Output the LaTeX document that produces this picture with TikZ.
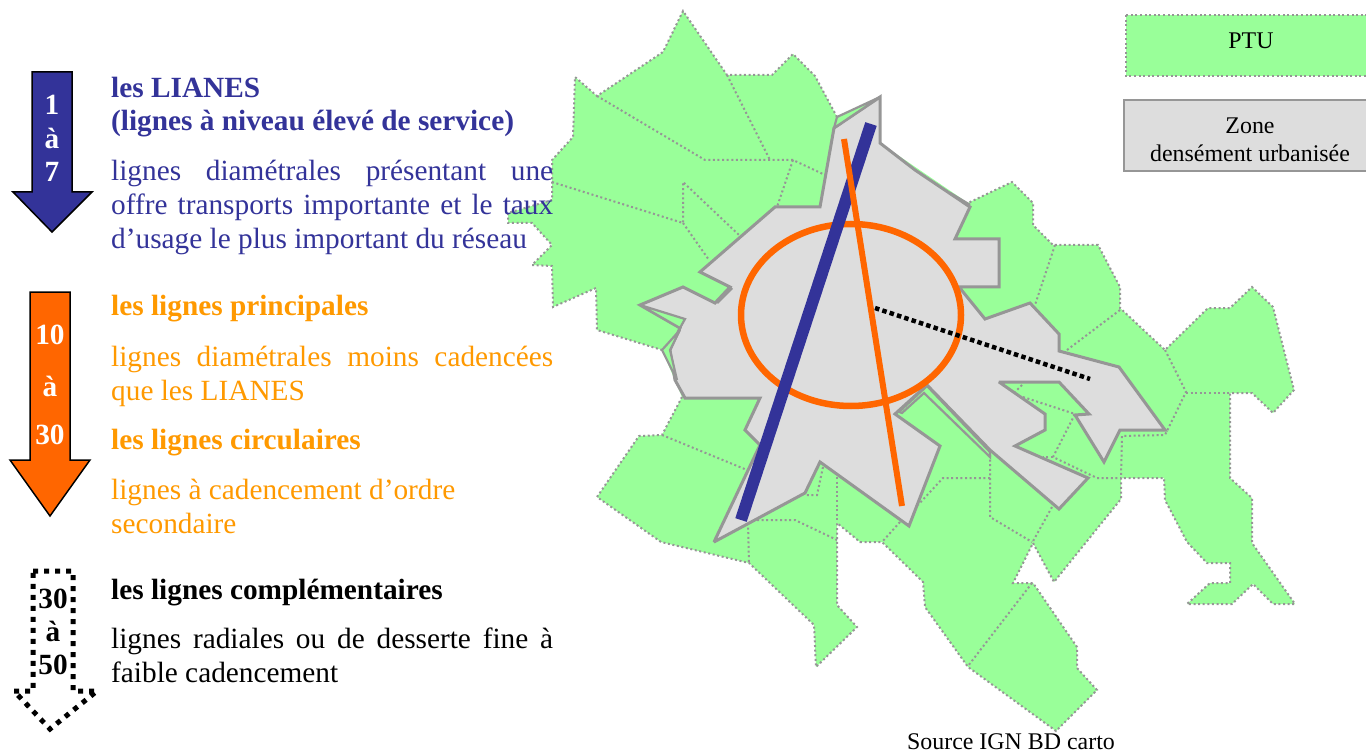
\documentclass[tikz,border=0pt]{standalone}
\usepackage{fontspec}
\setmainfont{Liberation Serif}
\usepackage{xcolor}
\definecolor{lianes}{HTML}{333399}
\definecolor{orangefonce}{HTML}{FF6600}
\definecolor{orangeclair}{HTML}{FF9900}
\definecolor{vertptu}{HTML}{99FF99}
\definecolor{griszone}{HTML}{DDDDDD}
\definecolor{gristrait}{HTML}{969696}
\tikzstyle{commune}=[draw=gristrait,line width=2pt,dash pattern=on 2pt off 2.6pt]
\tikzstyle{zone}=[draw=gristrait,line width=3pt,line join=miter,miter limit=3]
\tikzstyle{sliver}=[zone,fill=vertptu,line width=2.2pt]
\tikzstyle{titre}=[anchor=base west,inner sep=0pt,font=\fontsize{29.3}{33}\selectfont\bfseries,align=left]
\tikzstyle{corps}=[anchor=base west,inner sep=0pt,text width=442pt,align=justify,font=\fontsize{29.3}{34}\selectfont]
\tikzstyle{rang}=[inner sep=0pt,align=center,font=\fontsize{29.3}{31}\selectfont\bfseries]
\tikzstyle{legende}=[inner sep=0pt,align=center,font=\fontsize{23.9}{28}\selectfont]
\begin{document}
\begin{tikzpicture}[x=1pt,y=-1pt]
\useasboundingbox (0,0) rectangle (1366,754);
% PTU
\fill[vertptu] (683,11) -- (727,75) -- (772,75) -- (793,54) -- (815,76) -- (837,117) -- (880,97) -- (880,143)
  -- (968,203) -- (1012,182) -- (1033,203) -- (1033,225) -- (1053,245) -- (1098,245) -- (1120,287) -- (1120,308)
  -- (1165,350) -- (1208,308) -- (1230,308) -- (1252,287) -- (1273,307) -- (1294,390) -- (1273,413) -- (1252,393)
  -- (1230,393) -- (1230,478) -- (1252,498) -- (1252,543) -- (1295,604) -- (1273,604) -- (1253,584) -- (1232,604)
  -- (1187,604) -- (1210,583) -- (1230,583) -- (1230,563) -- (1207,563) -- (1187,542) -- (1165,500) -- (1164,478)
  -- (1121,478) -- (1121,499) -- (1054,582) -- (1033,543) -- (1013,583) -- (1033,583) -- (1077,647) -- (1077,668)
  -- (1097,690) -- (1056,731) -- (968,667) -- (925,607) -- (923,582) -- (882,542) -- (860,542) -- (837,523)
  -- (837,605) -- (857,627) -- (816,667) -- (814,625) -- (749,563) -- (661,542) -- (597,497) -- (639,436)
  -- (662,435) -- (682,397) -- (662,350) -- (597,330) -- (596,288) -- (553,307) -- (552,266) -- (532,265)
  -- (552,245) -- (532,223) -- (508,223) -- (508,213) -- (552,200) -- (552,160) -- (573,137) -- (575,77)
  -- (597,96) -- (663,52) -- cycle;
\path[commune] (837,117) -- (815,76) -- (793,54) -- (772,75) -- (727,75) -- (683,11) -- (663,52) -- (597,96)
  -- (575,77) -- (573,137) -- (552,160) -- (552,200) -- (508,213) -- (508,223) -- (532,223) -- (552,245)
  -- (532,265) -- (552,266) -- (553,307) -- (596,288) -- (597,330) -- (662,350);
\path[commune] (682,397) -- (662,435) -- (639,436) -- (597,497) -- (661,542) -- (749,563) -- (814,625) -- (816,667)
  -- (857,627) -- (837,605) -- (837,523) -- (860,542) -- (882,542) -- (923,582) -- (925,607) -- (968,667)
  -- (1056,731) -- (1097,690) -- (1077,668) -- (1077,647) -- (1033,583) -- (1013,583) -- (1033,543) -- (1054,582)
  -- (1121,499) -- (1121,478) -- (1164,478) -- (1165,500) -- (1187,542) -- (1207,563) -- (1230,563) -- (1230,583)
  -- (1210,583) -- (1187,604) -- (1232,604) -- (1253,584) -- (1273,604) -- (1295,604) -- (1252,543) -- (1252,498)
  -- (1230,478) -- (1230,393) -- (1252,393) -- (1273,413) -- (1294,390) -- (1273,307) -- (1252,287) -- (1230,308)
  -- (1208,308) -- (1165,350) -- (1120,308) -- (1120,287) -- (1098,245) -- (1053,245) -- (1033,225) -- (1033,203)
  -- (1012,182) -- (968,203);
% limites des communes
\path[commune] (597,96) -- (705,160) -- (793,160) -- (825,175);
\path[commune] (727,75) -- (770,160);
\path[commune] (793,160) -- (777,207);
\path[commune] (552,182) -- (683,223) -- (683,182) -- (739,235);
\path[commune] (683,223) -- (709,260);
\path[commune] (1055,245) -- (1035,305);
\path[commune] (1120,310) -- (1067,350);
\path[commune] (1165,350) -- (1186,392) -- (1165,435) -- (1122,436) -- (1121,478);
\path[commune] (1186,393) -- (1230,393);
\path[commune] (1022,385) -- (1015,392);
\path[commune] (1023,397) -- (1075,414) -- (1053,457) -- (1097,478) -- (1121,478);
\path[commune] (1053,457) -- (1043,457);
\path[commune] (990,455) -- (990,517) -- (1032,542);
\path[commune] (1052,507) -- (1032,543);
\path[commune] (990,478) -- (943,478) -- (918,505);
\path[commune] (900,522) -- (882,542);
\path[commune] (837,477) -- (837,523);
\path[commune] (823,467) -- (817,495) -- (805,495);
\path[commune] (748,523) -- (749,563);
\path[commune] (757,520) -- (795,520) -- (837,540);
\path[commune] (662,435) -- (747,470);
\path[commune] (1032,583) -- (968,666);
% zone densement urbanisee
\path[zone,fill=griszone] (880,97) -- (880,143) -- (915,170) -- (970,207) -- (955,239) -- (999,239) -- (999,287)
  -- (959,287) -- (985,319) -- (1030,303) -- (1059,334) -- (1059,351) -- (1119,367) -- (1165,430) -- (1120,430)
  -- (1104,462) -- (1075,415) -- (1089,414) -- (1059,382) -- (999,382) -- (1045,414) -- (1045,430) -- (1015,446)
  -- (1088,478) -- (1059,509) -- (990,450) -- (927,385) -- (895,414) -- (940,446) -- (909,526) -- (820,462)
  -- (805,493) -- (714,542) -- (760,445) -- (745,430) -- (760,398) -- (685,398) -- (675,380) -- (670,350)
  -- (680,328) -- (640,305) -- (683,287) -- (715,303) -- (730,287) -- (700,272) -- (775,207) -- (820,207)
  -- (834,128) -- cycle;
\path[sliver] (837,117) -- (880,97) -- (834,128) -- cycle;
\path[sliver] (640,305) -- (685,319) -- (680,328) -- cycle;
\path[sliver] (662,350) -- (680,330) -- (670,350) -- (677,380) -- cycle;
\path[sliver] (899,412) -- (927,386) -- (990,452) -- (990,457) -- (924,393) -- (902,413) -- cycle;
\draw[gristrait,line width=2.5pt] (950,193) -- (970,205);
\draw[gristrait,line width=2.5pt] (732,288) -- (717,303);
% lignes
\draw[orangefonce,line width=6.5pt] (851,315) ellipse (110 and 91);
\draw[lianes,line width=12pt] (871,124) -- (741,520);
\draw[orangefonce,line width=6pt] (844,139) -- (902,506);
\draw[black,line width=4.5pt,dash pattern=on 4.5pt off 3.2pt] (875,308) -- (1090,379);
% fleches
\draw[black,line width=1.5pt,fill=lianes] (32,72) -- (72,72) -- (72,192) -- (92,192) -- (52,232) -- (13,192) -- (32,192) -- cycle;
\draw[black,line width=1.5pt,fill=orangefonce] (30,292) -- (70,292) -- (70,460) -- (90,460) -- (50,516) -- (10,460) -- (30,460) -- cycle;
\draw[black,line width=5pt,dash pattern=on 5pt off 6pt] (33,571) -- (73,571) -- (73,691) -- (97,691) -- (50,729) -- (14,691) -- (33,691) -- cycle;
\node[rang,white] (rangA) at (52,138.5) {1\\[3pt]à\\[2pt]7};
\node[rang,white] (rangB) at (50,385) {10\\[21pt]à\\[17pt]30};
\node[rang,black] (rangC) at (53,632) {30\\[2pt]à\\[2pt]50};
% textes
\node[titre,lianes] (lianesT) at (111,131) {les LIANES\\(lignes à niveau élevé de service)};
\node[corps,lianes] (lianesC) at (111,181) {lignes diamétrales présentant une\linebreak offre transports importante et le taux\linebreak d’usage le plus important du réseau};
\node[titre,orangeclair] (principT) at (111,315) {les lignes principales};
\node[corps,orangeclair] (principC) at (111,366) {lignes diamétrales moins cadencées\linebreak que les LIANES};
\node[titre,orangeclair] (circT) at (111,449) {les lignes circulaires};
\node[corps,orangeclair] (circC) at (111,499) {lignes à cadencement d’ordre\\secondaire};
\node[titre,black] (complT) at (111,599) {les lignes complémentaires};
\node[corps,black] (complC) at (111,648) {lignes radiales ou de desserte fine à\linebreak faible cadencement};
% legende
\path[commune,fill=vertptu] (1126,15) rectangle (1372,76);
\node[legende] (ptu) at (1251,41) {PTU};
\path[draw=gristrait,line width=2.4pt,fill=griszone] (1124,100) rectangle (1372,171);
\node[legende] (zonedense) at (1250,140) {Zone\\densément urbanisée};
\node[legende,anchor=base] (source) at (1011,749) {Source IGN BD carto};
\end{tikzpicture}
\end{document}
